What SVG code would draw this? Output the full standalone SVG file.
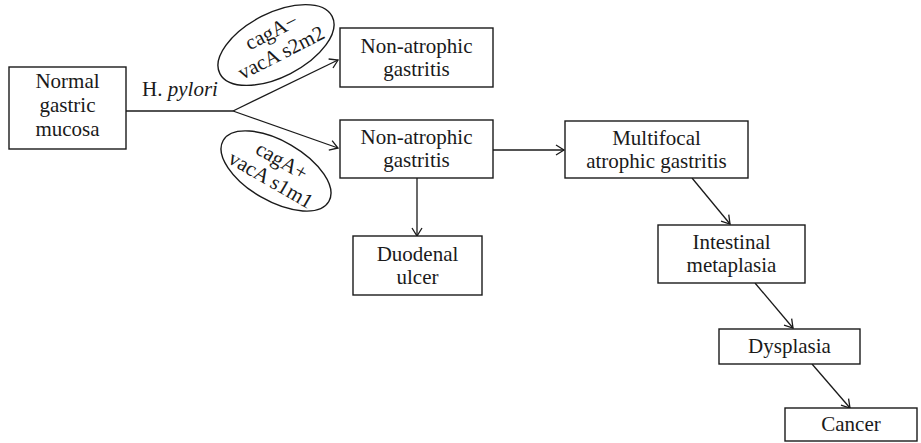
<svg xmlns="http://www.w3.org/2000/svg" width="921" height="443" viewBox="0 0 921 443">
<style>
  .box { fill: #fff; stroke: #1a1a1a; stroke-width: 1.4; }
  .ell { fill: #fff; stroke: #1a1a1a; stroke-width: 1.4; }
  .t { font-family: "Liberation Serif", "Times New Roman", serif; font-size: 21px; fill: #1a1a1a; text-anchor: middle; }
  .con { fill: none; stroke: #1a1a1a; stroke-width: 1.3; }
</style>
<defs>
  <marker id="arr" markerUnits="userSpaceOnUse" markerWidth="12" markerHeight="12" refX="10" refY="6" orient="auto">
    <path d="M2,1 L10,6 L2,11" fill="none" stroke="#1a1a1a" stroke-width="1.3"/>
  </marker>
</defs>
<rect width="921" height="443" fill="#fff"/>

<g id="connectors">
  <path class="con" d="M126,111 L233,111"/>
  <path class="con" d="M233,111 L338,60" marker-end="url(#arr)"/>
  <path class="con" d="M233,111 L338,148" marker-end="url(#arr)"/>
  <path class="con" d="M417,178 L417,236" marker-end="url(#arr)"/>
  <path class="con" d="M493,150 L564,150" marker-end="url(#arr)"/>
  <path class="con" d="M692,178 L730,224" marker-end="url(#arr)"/>
  <path class="con" d="M755,283 L793,328" marker-end="url(#arr)"/>
  <path class="con" d="M812,364 L850,408" marker-end="url(#arr)"/>
  <text class="t" x="180" y="96"><tspan>H. </tspan><tspan font-style="italic">pylori</tspan></text>
</g>

<g id="normal">
  <rect class="box" x="9" y="67" width="117" height="82"/>
  <text class="t" x="67.5" y="88">Normal</text>
  <text class="t" x="67.5" y="112">gastric</text>
  <text class="t" x="67.5" y="136">mucosa</text>
</g>

<g id="strain-neg" transform="translate(276,45) rotate(-27)">
  <ellipse class="ell" cx="0" cy="0" rx="63" ry="32"/>
  <text class="t" x="2" y="-7">cagA−</text>
  <text class="t" x="1" y="16">vacA s2m2</text>
</g>

<g id="strain-pos" transform="translate(276,171) rotate(30)">
  <ellipse class="ell" cx="0" cy="0" rx="61" ry="30"/>
  <text class="t" x="0" y="-5">cagA+</text>
  <text class="t" x="0" y="17">vacA s1m1</text>
</g>

<g id="nonatrophic-1">
  <rect class="box" x="340" y="28" width="153" height="59"/>
  <text class="t" x="416.5" y="53">Non-atrophic</text>
  <text class="t" x="416.5" y="76">gastritis</text>
</g>

<g id="nonatrophic-2">
  <rect class="box" x="340" y="120" width="153" height="58"/>
  <text class="t" x="416.5" y="144">Non-atrophic</text>
  <text class="t" x="416.5" y="167">gastritis</text>
</g>

<g id="duodenal">
  <rect class="box" x="353" y="236" width="129" height="59"/>
  <text class="t" x="417.5" y="261">Duodenal</text>
  <text class="t" x="417.5" y="284">ulcer</text>
</g>

<g id="multifocal">
  <rect class="box" x="565" y="121" width="183" height="57"/>
  <text class="t" x="656.5" y="145">Multifocal</text>
  <text class="t" x="656.5" y="168">atrophic gastritis</text>
</g>

<g id="intestinal">
  <rect class="box" x="658" y="225" width="147" height="58"/>
  <text class="t" x="731.5" y="249">Intestinal</text>
  <text class="t" x="731.5" y="272">metaplasia</text>
</g>

<g id="dysplasia">
  <rect class="box" x="719" y="329" width="141" height="35"/>
  <text class="t" x="789.5" y="353">Dysplasia</text>
</g>

<g id="cancer">
  <rect class="box" x="785" y="408" width="132" height="33"/>
  <text class="t" x="851" y="431">Cancer</text>
</g>
</svg>
